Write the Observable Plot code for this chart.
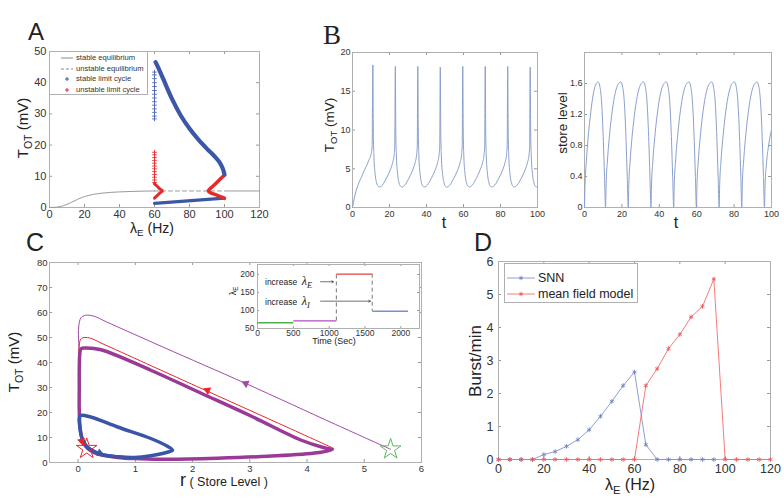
<!DOCTYPE html>
<html><head><meta charset="utf-8">
<script src="https://cdn.jsdelivr.net/npm/d3@7"></script>
<script src="https://cdn.jsdelivr.net/npm/@observablehq/plot@0.6"></script>
<style>
body{margin:0;background:#fff;}
#fig{position:relative;width:784px;height:501px;overflow:hidden;background:#fff;font-family:"Liberation Sans",Arial,sans-serif;color:#222;}
.p{position:absolute;}
.p svg{display:block;}
.lbl{position:absolute;white-space:nowrap;line-height:1;}
sub{font-size:70%;vertical-align:baseline;position:relative;top:0.35em;}
.leg{position:absolute;background:#fff;border:1px solid #b0b0b0;box-sizing:border-box;}
</style></head><body><div id="fig"></div>
<script>
// ---------- Panel A data ----------
const aXTicks = [0,20,40,60,80,100,120];
const aYTicks = [0,10,20,30,40,50];
const aEqStableX = [0,4,8,12,16,20,25,30,40,50,60];
const aEqStableY = [0,0.1,0.6,1.5,2.6,3.5,4.2,4.6,5.0,5.2,5.3];
const aEqStableRX = [100,120];
const aEqStableRY = [5.3,5.3];
const aEqUnstX = [60,100];
const aEqUnstY = [5.3,5.3];
const aLCupX = [60.6,62,65,70,75,80,85,90,94,97,99,100];
const aLCupY = [46.6,45,41.2,34.8,29.5,25.3,21.8,18.8,16.6,14.6,12.5,10.6];
const aLClowX = [60,100];
const aLClowY = [1.3,3.0];
const aLCsparseY = [28.4,29.3,30.5,31.6,32.8,33.9,35.1,36.3,37.5,38.8,40.0,41.3,42.5,43.4];
const aULCsparseY = [17.7,16.9,16.0,15.1,14.2,13.3,12.4,11.5,10.6,9.7,8.8,8.0];
const aULCleftX = [60,61.5,63,64.5,63,61.5,60];
const aULCleftY = [7.6,6.8,6.0,5.3,4.6,3.8,3.0];
const aULCrightX = [100,99,97.7,94.9,92.5,90.7,92.5,94.9,97.5,99,100];
const aULCrightY = [10.3,9.9,9.2,7.6,6.4,5.35,4.6,4.1,3.5,3.2,2.9];

// ---------- Panel B data ----------
const bXTicks = [0,20,40,60,80,100];
const bLeftYTicks = [0,5,10,15,20];
const bRightYTicks = [0,0.4,0.8,1.2,1.6];
const bLeftT = [0,0.5,1,2,3,4,5,6,7,8,9,10,10.6,11.0,
 11.25,11.6,12.2,13.0,14.0,14.5,16.0,17.5,19.0,20.5,21.7,22.5,22.85,23.15,
 23.4,23.75,24.35,25.15,26.15,26.65,28.15,29.65,31.15,32.65,33.85,34.65,35.0,35.3,
 35.55,35.9,36.5,37.3,38.3,38.8,40.3,41.8,43.3,44.8,46.0,46.8,47.15,47.45,
 47.7,48.05,48.65,49.45,50.45,50.95,52.45,53.95,55.45,56.95,58.15,58.95,59.3,59.6,
 59.85,60.2,60.8,61.6,62.6,63.1,64.6,66.1,67.6,69.1,70.3,71.1,71.45,71.75,
 72.0,72.35,72.95,73.75,74.75,75.25,76.75,78.25,79.75,81.25,82.45,83.25,83.6,83.9,
 84.15,84.5,85.1,85.9,86.9,87.4,88.9,90.4,91.9,93.4,94.6,95.4,95.75,96.05,
 96.3,96.65,97.25,98.05,99.05,100];
const bLeftV = [0,0.6,1.2,2.2,2.9,3.5,4.0,4.6,5.1,5.6,6.2,6.8,7.8,18.4,
 10,6.5,4.4,3.2,2.7,2.65,2.85,3.4,4.1,4.9,5.8,6.8,7.8,18.2,
 10,6.5,4.4,3.2,2.7,2.65,2.85,3.4,4.1,4.9,5.8,6.8,7.8,18.2,
 10,6.5,4.4,3.2,2.7,2.65,2.85,3.4,4.1,4.9,5.8,6.8,7.8,18.1,
 10,6.5,4.4,3.2,2.7,2.65,2.85,3.4,4.1,4.9,5.8,6.8,7.8,18.2,
 10,6.5,4.4,3.2,2.7,2.65,2.85,3.4,4.1,4.9,5.8,6.8,7.8,18.2,
 10,6.5,4.4,3.2,2.7,2.65,2.85,3.4,4.1,4.9,5.8,6.8,7.8,18.2,
 10,6.5,4.4,3.2,2.7,2.65,2.85,3.4,4.1,4.9,5.8,6.8,7.8,18.1,
 10,6.5,4.4,3.2,2.7,2.65];
const bRightT = [0,0.3,1.0,2.0,3.3,4.6,5.9,7.3,8.3,9.3,10.1,10.7,11.25,
 11.55,12.25,13.45,14.85,16.45,17.95,19.45,20.45,21.45,22.25,22.85,23.4,
 23.7,24.4,25.6,27.0,28.6,30.1,31.6,32.6,33.6,34.4,35.0,35.55,
 35.85,36.55,37.75,39.15,40.75,42.25,43.75,44.75,45.75,46.55,47.15,47.7,
 48.0,48.7,49.9,51.3,52.9,54.4,55.9,56.9,57.9,58.7,59.3,59.85,
 60.15,60.85,62.05,63.45,65.05,66.55,68.05,69.05,70.05,70.85,71.45,72.0,
 72.3,73.0,74.2,75.6,77.2,78.7,80.2,81.2,82.2,83.0,83.6,84.1,
 84.4,85.1,86.3,87.7,89.3,90.8,92.3,93.3,94.3,95.1,95.7,96.25,
 96.55,97.25,98.45,100];
const bRightV = [0,0.3,0.6,0.92,1.22,1.45,1.58,1.62,1.55,1.3,0.85,0.4,0,
 0.3,0.6,0.95,1.25,1.48,1.59,1.62,1.55,1.3,0.85,0.4,0,
 0.3,0.6,0.95,1.25,1.48,1.59,1.62,1.55,1.3,0.85,0.4,0,
 0.3,0.6,0.95,1.25,1.48,1.59,1.62,1.55,1.3,0.85,0.4,0,
 0.3,0.6,0.95,1.25,1.48,1.59,1.62,1.55,1.3,0.85,0.4,0,
 0.3,0.6,0.95,1.25,1.48,1.59,1.62,1.55,1.3,0.85,0.4,0,
 0.3,0.6,0.95,1.25,1.48,1.59,1.62,1.55,1.3,0.85,0.4,0,
 0.3,0.6,0.95,1.25,1.48,1.59,1.62,1.55,1.3,0.85,0.4,0,
 0.28,0.55,0.8,1.0];

// ---------- Panel C data ----------
const cXTicks = [0,1,2,3,4,5,6];
const cYTicks = [0,10,20,30,40,50,60,70,80];
const cPurpleThickX = [0.05,0.13,0.4,1.27,2.14,3.02,3.89,4.3,4.44,4.18,3.31,2.43,1.56,1.09,0.69,0.28,0.1,0.04,0.02,0.02,0.02,0.03];
const cPurpleThickY = [45.5,45.8,45.1,36.9,27.8,18.6,9.0,5.9,5.2,3.9,2.5,1.7,1.3,1.5,2.0,3.9,7.6,12.9,20.9,30,37,43.5];
const cBlueThickX = [0.04,0.22,0.69,1.27,1.56,1.65,1.59,1.27,0.98,0.69,0.4,0.16,0.06,0.03,0.02];
const cBlueThickY = [18.8,18.2,14.2,9.6,6.5,4.9,4.3,2.7,2.0,2.3,3.3,6.3,10.3,14.2,17.5];
const cRedThinX = [4.47,3.5,2.26,1.2,0.4,0.22,0.12,0.05,0.02,0.01,0.01,0.02,0.05,0.1,0.15];
const cRedThinY = [5.6,15.7,28.5,39.5,47.8,49.7,50.0,49.5,47,40,25,15,10,7.2,5.5];
const cPurpleThinX = [5.46,4.5,2.93,1.5,0.5,0.28,0.13,0.05,0.01,0.01,0.02];
const cPurpleThinY = [5.3,15.2,31.6,46.0,56.2,58.5,58.9,57.9,54.2,48,45];
const cBlueThinX = [0.06,0.14,0.3,0.55,0.85];
const cBlueThinY = [8.5,5.6,4.2,3.1,2.4];
const cStarX = [0.15,5.46];
const cStarY = [5.5,5.3];
const cStarColor = ["#e8262b","#5cb85c"];
const cArrowX = [2.26,2.93,0.38,0.06];
const cArrowY = [28.9,31.6,3.8,8.6];
const cArrowRot = [-65.6,-65.6,110,165];
const cArrowColor = ["#e8262b","#a44aa6","#3a55a8","#e8262b"];

// inset
const inXTicks = [0,500,1000,1500,2000];
const inYTicks = [50,100,150,200];
const inSegX1 = [0,500,1100,1600];
const inSegX2 = [500,1100,1600,2100];
const inSegY = [66,71,201,98];
const inSegColor = ["#4caf50","#b04cc0","#e84040","#7b8fd0"];
const inDashX = [1100,1600];
const inDashY1 = [71,201];
const inDashY2 = [201,98];
const inArrowX1 = [880,880];
const inArrowX2 = [1060,1575];
const inArrowY = [180,126];

// ---------- Panel D data ----------
const dXTicks = [0,20,40,60,80,100,120];
const dYTicks = [0,1,2,3,4,5,6];
const dSNNx = [0,5,10,15,20,25,30,35,40,45,50,55,60,65,70,75,80,85,90,95];
const dSNN  = [0,0,0,0,0.15,0.24,0.4,0.6,0.9,1.31,1.76,2.24,2.65,0.45,0,0,0,0,0,0];
const dMFx = [0,5,10,15,20,25,30,35,40,45,50,55,60,65,70,75,80,85,90,95,100,105,110,115,120];
const dMF  = [0,0,0,0,0,0,0,0,0,0,0,0,0,2.24,2.75,3.36,3.79,4.32,4.64,5.47,0,0,0,0,0];

// ---------- helpers ----------
const fig = document.getElementById("fig");
const zip = (X,Y) => X.map((x,i)=>[x,Y[i]]);
const FONT = "Liberation Sans, Arial, sans-serif";
const FRAME = "#b0b0b0", TICK = "#999";
const fmt = d => String(d);
function axes({xt, yt, iw, ih, tl=3, xpad=3, ypad=3}) {
  return [
    Plot.tickX(xt, {x:d=>d, insetTop:ih-tl, stroke:TICK}),
    Plot.tickX(xt, {x:d=>d, insetBottom:ih-tl, stroke:TICK}),
    Plot.tickY(yt, {y:d=>d, insetRight:iw-tl, stroke:TICK}),
    Plot.tickY(yt, {y:d=>d, insetLeft:iw-tl, stroke:TICK}),
    Plot.axisX(xt, {tickSize:0, tickPadding:xpad, tickFormat:fmt, label:null}),
    Plot.axisY(yt, {tickSize:0, tickPadding:ypad, tickFormat:fmt, label:null}),
    Plot.frame({stroke:FRAME})
  ];
}
function place(svg, left, top, w, h) {
  const d = document.createElement("div");
  d.className = "p";
  Object.assign(d.style, {left:left+"px", top:top+"px", width:w+"px", height:h+"px"});
  d.appendChild(svg); fig.appendChild(d);
}
function lab(html, x, y, size, o={}) {
  const d = document.createElement("div");
  d.className = "lbl"; d.innerHTML = html;
  Object.assign(d.style, {left:x+"px", top:y+"px", fontSize:size+"px"});
  let t = o.left ? "translate(0,-50%)" : "translate(-50%,-50%)";
  if (o.rot) t += " rotate(-90deg)";
  d.style.transform = t;
  if (o.font) d.style.fontFamily = o.font;
  if (o.color) d.style.color = o.color;
  fig.appendChild(d);
}
const st = (size) => ({fontFamily:FONT, fontSize:size+"px", color:"#333", background:"transparent", overflow:"visible"});

// ---------- Panel A ----------
place(Plot.plot({
  width:290, height:240, marginLeft:49, marginRight:31, marginTop:51, marginBottom:33,
  style:st(11),
  x:{domain:[0,120], label:null}, y:{domain:[0,50], label:null},
  marks:[
    ...axes({xt:aXTicks, yt:aYTicks, iw:210, ih:156}),
    Plot.line(zip(aEqStableX,aEqStableY), {stroke:"#9a9a9a", strokeWidth:1, curve:"monotone-x"}),
    Plot.line(zip(aEqStableRX,aEqStableRY), {stroke:"#9a9a9a", strokeWidth:1}),
    Plot.line(zip(aEqUnstX,aEqUnstY), {stroke:"#9a9a9a", strokeWidth:1, strokeDasharray:"4,3"}),
    Plot.dot(aLCsparseY, {x:60, y:d=>d, symbol:"plus", r:1.6, stroke:"#4a64b0", strokeWidth:0.9}),
    Plot.dot(aULCsparseY, {x:60, y:d=>d, symbol:"plus", r:1.6, stroke:"#e52a2a", strokeWidth:0.9}),
    Plot.line(zip(aLClowX,aLClowY), {stroke:"#3d57a8", strokeWidth:3.2}),
    Plot.line(zip(aULCleftX,aULCleftY), {stroke:"#e52a2a", strokeWidth:3, curve:"catmull-rom"}),
    Plot.line(zip(aULCrightX,aULCrightY), {stroke:"#e52a2a", strokeWidth:3.5, curve:"catmull-rom"}),
    Plot.line(zip(aLCupX,aLCupY), {stroke:"#3d57a8", strokeWidth:4.2, curve:"catmull-rom", strokeLinecap:"round"})
  ]
}), 0, 0, 290, 240);

// Legend A
(function(){
  const d = document.createElement("div");
  d.className = "leg";
  Object.assign(d.style, {left:"49px", top:"51px", width:"99px", height:"44px"});
  const items = [
    ["stable equilibrium", `<line x1="0" y1="4" x2="12" y2="4" stroke="#8a8a8a" stroke-width="1"/>`],
    ["unstable equilibrium", `<line x1="0" y1="4" x2="12" y2="4" stroke="#8a8a8a" stroke-width="1" stroke-dasharray="3,2"/>`],
    ["stable limit cycle", `<path d="M6,2V6M4,4H8" stroke="#3d57a8" stroke-width="1"/>`],
    ["unstable limit cycle", `<path d="M6,2V6M4,4H8" stroke="#e52a2a" stroke-width="1"/>`]
  ];
  const ys = [6, 16.5, 27, 37.5];
  items.forEach(([t,s],i)=>{
    const sv = document.createElementNS("http://www.w3.org/2000/svg","svg");
    sv.setAttribute("width","12"); sv.setAttribute("height","8");
    sv.style.position="absolute"; sv.style.left="11px"; sv.style.top=(ys[i]-4)+"px";
    sv.innerHTML = s; d.appendChild(sv);
    const l = document.createElement("div");
    l.className="lbl"; l.textContent=t;
    Object.assign(l.style,{left:"26px", top:ys[i]+"px", fontSize:"7.6px", transform:"translate(0,-50%)", color:"#333"});
    d.appendChild(l);
  });
  fig.appendChild(d);
})();

// ---------- Panel B ----------
place(Plot.plot({
  width:245, height:240, marginLeft:52, marginRight:8, marginTop:52, marginBottom:33,
  style:st(9),
  x:{domain:[0,100], label:null}, y:{domain:[0,20], label:null},
  marks:[
    ...axes({xt:bXTicks, yt:bLeftYTicks, iw:185, ih:155, xpad:3, ypad:2}),
    Plot.line(zip(bLeftT,bLeftV), {stroke:"#8aa0cc", strokeWidth:1, curve:"monotone-x"})
  ]
}), 300, 0, 245, 240);

place(Plot.plot({
  width:239, height:240, marginLeft:39, marginRight:13, marginTop:52, marginBottom:33,
  style:st(9),
  x:{domain:[0,100], label:null}, y:{domain:[0,2], label:null},
  marks:[
    ...axes({xt:bXTicks, yt:bRightYTicks, iw:187, ih:155, xpad:3, ypad:2}),
    Plot.line(zip(bRightT,bRightV), {stroke:"#8aa0cc", strokeWidth:1, curve:"monotone-x"})
  ]
}), 545, 0, 239, 240);

// ---------- Panel C ----------
place(Plot.plot({
  width:430, height:261, marginLeft:49, marginRight:9, marginTop:22, marginBottom:39,
  style:st(9.5),
  x:{domain:[-0.5,6], label:null}, y:{domain:[0,80], label:null},
  marks:[
    ...axes({xt:cXTicks, yt:cYTicks, iw:372, ih:200, xpad:3, ypad:2}),
    Plot.line(zip(cPurpleThinX,cPurpleThinY), {stroke:"#a44aa6", strokeWidth:1, curve:"catmull-rom"}),
    Plot.line(zip(cRedThinX,cRedThinY), {stroke:"#e8262b", strokeWidth:1, curve:"catmull-rom"}),
    Plot.line(zip(cPurpleThickX,cPurpleThickY), {stroke:"#9b3a96", strokeWidth:3.5, curve:"catmull-rom-closed"}),
    Plot.line(zip(cBlueThickX,cBlueThickY), {stroke:"#3a55a8", strokeWidth:3.5, curve:"catmull-rom-closed"}),
    Plot.line(zip(cBlueThinX,cBlueThinY), {stroke:"#3a55a8", strokeWidth:1, curve:"catmull-rom"}),
    Plot.dot(cArrowX.map((x,i)=>i), {x:i=>cArrowX[i], y:i=>cArrowY[i], rotate:i=>cArrowRot[i], fill:i=>cArrowColor[i], symbol:"triangle", r:3}),
    Plot.dot(cStarX.map((x,i)=>i), {x:i=>cStarX[i], y:i=>cStarY[i], stroke:i=>cStarColor[i], fill:"none", symbol:"star", r:6.5, strokeWidth:1})
  ]
}), 0, 240, 430, 261);

// Inset
place(Plot.plot({
  width:210, height:95, marginLeft:37, marginRight:11, marginTop:9, marginBottom:22,
  style:st(8.5),
  x:{domain:[0,2260], label:null}, y:{domain:[50,228], label:null},
  marks:[
    Plot.frame({fill:"#fff", stroke:"none"}),
    ...axes({xt:inXTicks, yt:inYTicks, iw:162, ih:64, tl:2, xpad:1, ypad:3}),
    Plot.ruleX(inDashX.map((x,i)=>i), {x:i=>inDashX[i], y1:i=>inDashY1[i], y2:i=>inDashY2[i], stroke:"#555", strokeWidth:0.8, strokeDasharray:"4,3"}),
    Plot.link(inSegX1.map((x,i)=>i), {x1:i=>inSegX1[i], x2:i=>inSegX2[i], y1:i=>inSegY[i], y2:i=>inSegY[i], stroke:i=>inSegColor[i], strokeWidth:1.3}),
    Plot.arrow(inArrowX1.map((x,i)=>i), {x1:i=>inArrowX1[i], x2:i=>inArrowX2[i], y1:i=>inArrowY[i], y2:i=>inArrowY[i], stroke:"#333", strokeWidth:0.7, headLength:4})
  ]
}), 220, 255, 210, 95);

// ---------- Panel D ----------
place(Plot.plot({
  width:354, height:261, marginLeft:68, marginRight:14, marginTop:21, marginBottom:42,
  style:st(12.5),
  x:{domain:[0,120], label:null}, y:{domain:[0,6], label:null},
  marks:[
    ...axes({xt:dXTicks, yt:dYTicks, iw:272, ih:198, xpad:5, ypad:5}),
    Plot.line(zip(dSNNx,dSNN), {stroke:"#8394c9", strokeWidth:0.9}),
    Plot.dot(zip(dSNNx,dSNN), {symbol:"asterisk", r:2.2, stroke:"#6a7dbd", strokeWidth:0.8}),
    Plot.line(zip(dMFx,dMF), {stroke:"#f26d6d", strokeWidth:0.9}),
    Plot.dot(zip(dMFx,dMF), {symbol:"asterisk", r:2.2, stroke:"#ee5252", strokeWidth:0.8})
  ]
}), 430, 240, 354, 261);

// Legend D
(function(){
  const d = document.createElement("div");
  d.className = "leg";
  Object.assign(d.style, {left:"504px", top:"263px", width:"134px", height:"40px"});
  const items = [["SNN","#8394c9","#6a7dbd"],["mean field model","#f26d6d","#ee5252"]];
  const ys = [13.5, 30];
  items.forEach(([t,c,m],i)=>{
    const sv = document.createElementNS("http://www.w3.org/2000/svg","svg");
    sv.setAttribute("width","28"); sv.setAttribute("height","8");
    sv.style.position="absolute"; sv.style.left="2px"; sv.style.top=(ys[i]-4)+"px";
    sv.innerHTML = `<line x1="0" y1="4" x2="28" y2="4" stroke="${c}" stroke-width="0.9"/><path d="M14,1.8V6.2M12.1,2.9L15.9,5.1M12.1,5.1L15.9,2.9" stroke="${m}" stroke-width="0.8"/>`;
    d.appendChild(sv);
    const l = document.createElement("div");
    l.className="lbl"; l.textContent=t;
    Object.assign(l.style,{left:"33px", top:ys[i]+"px", fontSize:"12.5px", transform:"translate(0,-50%)", color:"#222"});
    d.appendChild(l);
  });
  fig.appendChild(d);
})();

// ---------- Labels ----------
lab("A", 36, 32, 24);
lab("B", 332, 35, 27, {font:"Liberation Serif, Times New Roman, serif"});
lab("C", 35, 242, 25);
lab("D", 483, 242, 25);

lab("T<sub>OT</sub> (mV)", 22, 128, 15, {rot:true});
lab("λ<sub>E</sub> (Hz)", 152, 228, 14);
lab("T<sub>OT</sub> (mV)", 330, 125, 13.5, {rot:true});
lab("t", 444, 223, 16);
lab("store level", 563, 123, 13.5, {rot:true});
lab("t", 676, 223, 16);

lab("T<sub>OT</sub> (mV)", 13, 362, 15, {rot:true});
lab("<span style='font-size:18px'>r</span> ( Store Level )", 224, 480, 12.5);
lab("Time (Sec)", 334, 341, 9);
lab("λ<sub>E</sub>", 233, 291, 9, {rot:true});
lab("increase &nbsp;<i style='font-family:Liberation Serif,serif;font-size:12px'>λ<sub>E</sub></i>", 265, 281, 8.5, {left:true});
lab("increase &nbsp;<i style='font-family:Liberation Serif,serif;font-size:12px'>λ<sub>I</sub></i>", 265, 301, 8.5, {left:true});

lab("Burst/min", 475, 361, 17, {rot:true});
lab("λ<sub>E</sub> (Hz)", 630, 485, 16);
</script></body></html>
